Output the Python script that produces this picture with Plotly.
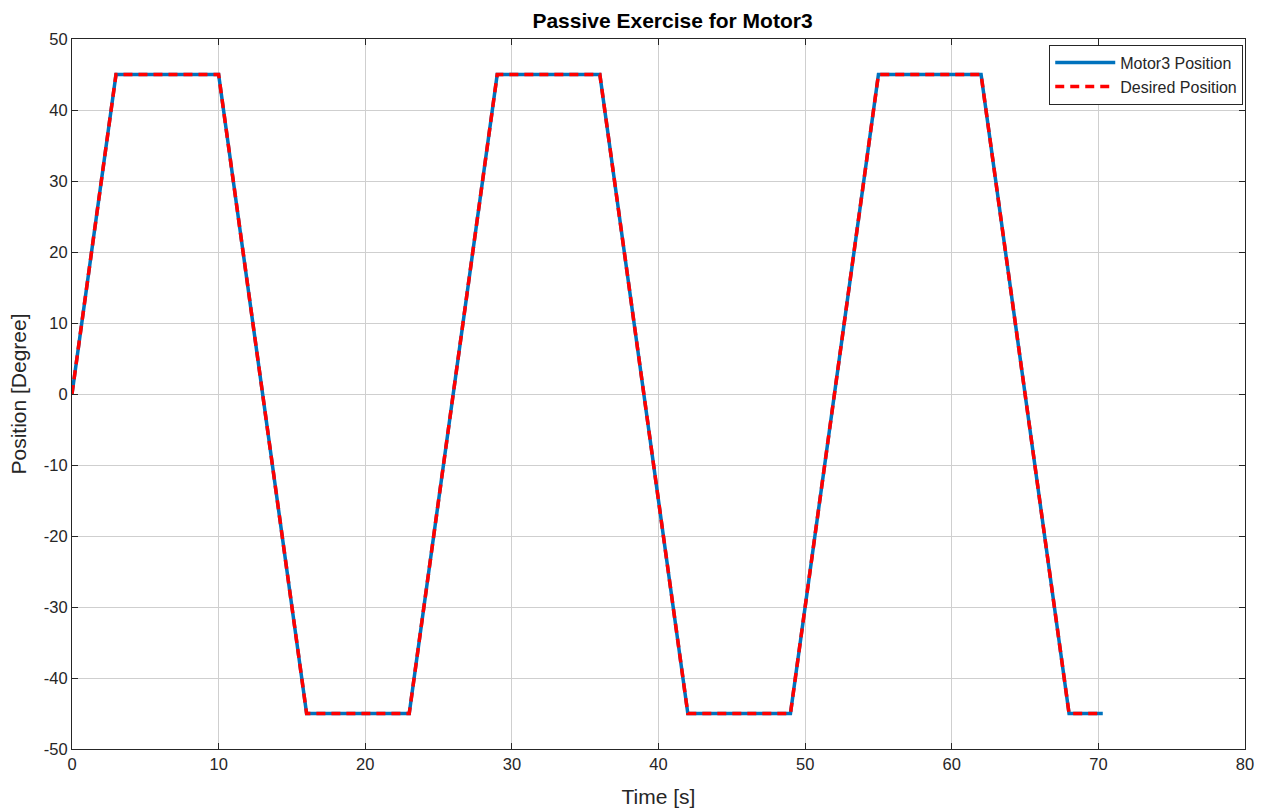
import plotly.graph_objects as go

# Breakpoints of the passive exercise trajectory (time in seconds, angle in degrees)
time_s = [0, 3, 10, 16, 23, 29, 36, 42, 49, 55, 62, 68, 70.3]
motor3_position = [0, 45, 45, -45, -45, 45, 45, -45, -45, 45, 45, -45, -45]
desired_position = [0, 45, 45, -45, -45, 45, 45, -45, -45, 45, 45, -45, -45]

x_ticks = [0, 10, 20, 30, 40, 50, 60, 70, 80]
y_ticks = [-50, -40, -30, -20, -10, 0, 10, 20, 30, 40, 50]
y_tick_text = [str(v) for v in y_ticks]  # plain hyphen for negatives

FONT = "Liberation Sans, Arial, Helvetica, sans-serif"
AX_COLOR = "#262626"

fig = go.Figure()
fig.add_trace(go.Scatter(
    x=time_s, y=motor3_position, mode="lines", name="Motor3 Position",
    line=dict(color="rgb(0,114,189)", width=3.5),
))
fig.add_trace(go.Scatter(
    x=time_s, y=desired_position, mode="lines", name="Desired Position",
    line=dict(color="rgb(255,0,0)", width=3.5, dash="9px,6px"),
))

axis_common = dict(
    showline=True, linecolor=AX_COLOR, linewidth=1, mirror="allticks",
    ticks="inside", ticklen=6, tickcolor=AX_COLOR, tickwidth=1,
    showgrid=True, gridcolor="#cfcfcf", gridwidth=1,
    zeroline=False, automargin=False,
    tickfont=dict(family=FONT, size=16.5, color=AX_COLOR),
)

fig.update_layout(
    width=1273, height=812,
    paper_bgcolor="white", plot_bgcolor="white",
    margin=dict(l=72, r=28, t=39, b=63),
    title=dict(
        text="<b>Passive Exercise for Motor3</b>",
        x=0.5 + 14 / 1173, xref="paper", xanchor="center",
        y=1 - 21 / 812, yanchor="middle",
        font=dict(family=FONT, size=21, color="black"),
    ),
    xaxis=dict(
        range=[0, 80], tickvals=x_ticks,
        title=dict(text="Time [s]", font=dict(family=FONT, size=21, color=AX_COLOR), standoff=17),
        **axis_common,
    ),
    yaxis=dict(
        range=[-50, 50], tickvals=y_ticks, ticktext=y_tick_text,
        title=dict(text="Position [Degree]", font=dict(family=FONT, size=21, color=AX_COLOR), standoff=11),
        **axis_common,
    ),
    legend=dict(
        x=0.9985, xanchor="right", y=0.992, yanchor="top",
        bgcolor="white", bordercolor=AX_COLOR, borderwidth=1,
        font=dict(family=FONT, size=16, color=AX_COLOR),
        itemwidth=60, tracegroupgap=0,
    ),
    showlegend=True,
)

fig.write_html("out.html")
